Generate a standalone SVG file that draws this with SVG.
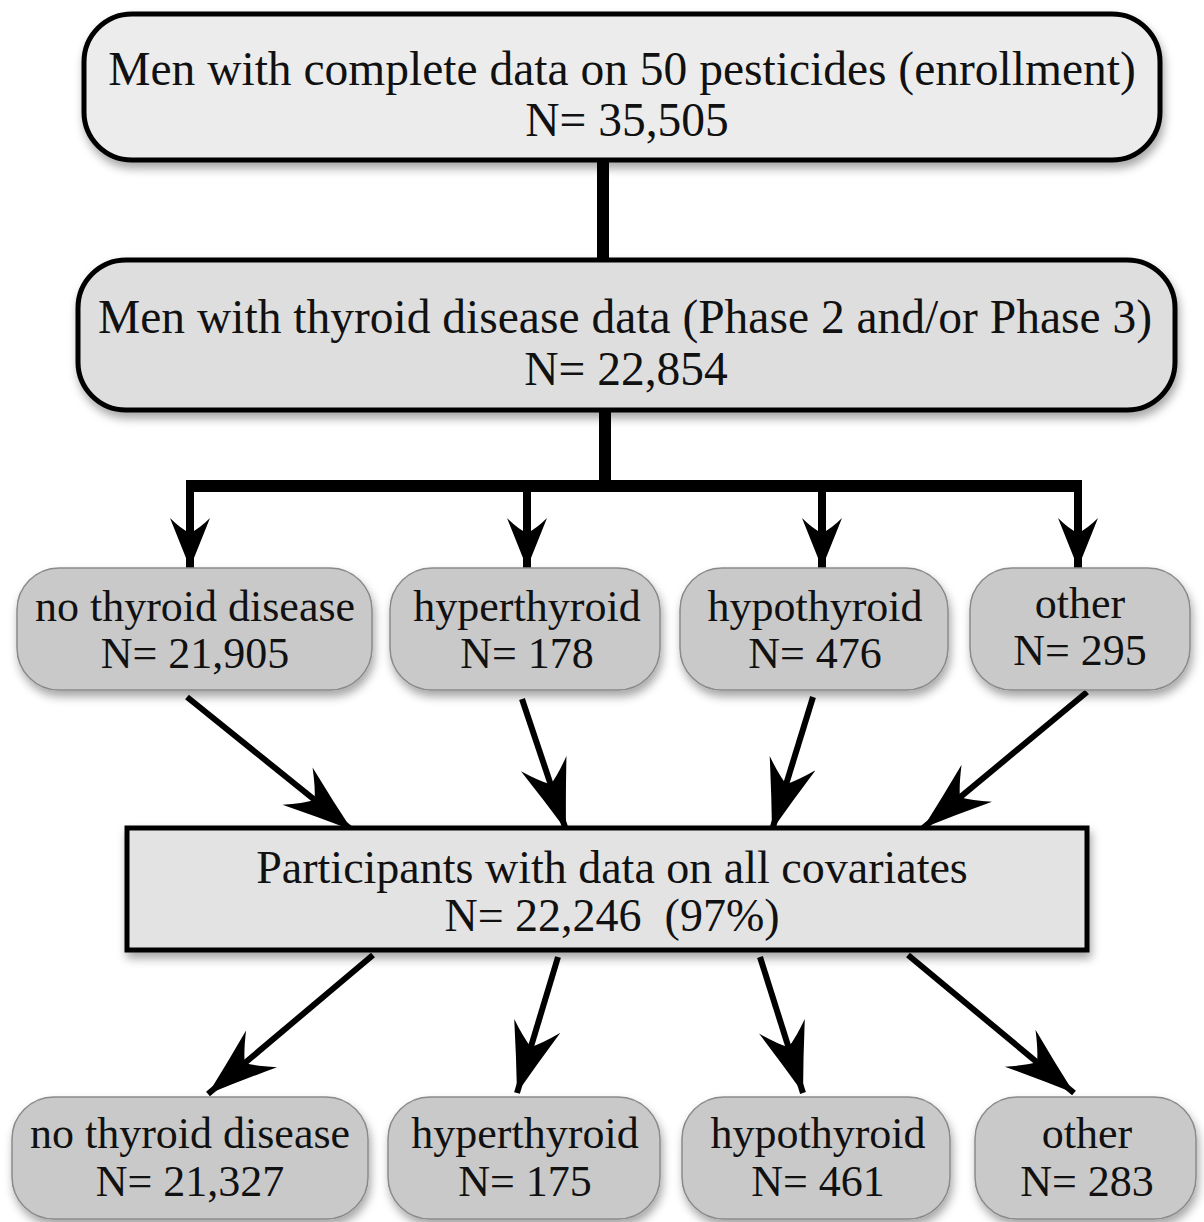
<svg xmlns="http://www.w3.org/2000/svg" width="1204" height="1222" viewBox="0 0 1204 1222">
<style>
  text { font-family: "Liberation Serif", "Times New Roman", serif; font-size: 44px; fill: #111; text-anchor: middle; }
  .top text { font-size: 47.5px; }
  .cov text { font-size: 46px; }
  .big { stroke: #000; stroke-width: 5; }
  .cat { fill: #c9c9c9; stroke: #8a8a8a; stroke-width: 1.5; }
  .conn { stroke: #000; fill: none; }
  .thick { stroke-width: 12; }
  .mid { stroke-width: 8; }
  .thin { stroke-width: 6; }
</style>
<defs>
  <filter id="sh" x="-10%" y="-10%" width="120%" height="135%">
    <feDropShadow dx="2" dy="6" stdDeviation="5" flood-color="#000" flood-opacity="0.35"/>
  </filter>
  <marker id="ah" markerUnits="userSpaceOnUse" markerWidth="76" markerHeight="52" refX="70" refY="24" orient="auto">
    <path d="M70,24 Q36,13 0,0 Q15,14 22,24 Q15,34 0,48 Q36,35 70,24 Z" fill="#000"/>
  </marker>
  <marker id="ahv" markerUnits="userSpaceOnUse" markerWidth="56" markerHeight="44" refX="50" refY="20" orient="auto">
    <path d="M50,20 Q25,10 0,0 Q11,11 15,20 Q11,29 0,40 Q25,30 50,20 Z" fill="#000"/>
  </marker>
</defs>
<rect width="1204" height="1222" fill="#fff"/>

<g id="connectors">
  <line class="conn thick" x1="603" y1="160" x2="603" y2="262"/>
  <line class="conn thick" x1="605" y1="410" x2="605" y2="488"/>
  <line class="conn thick" x1="186" y1="486" x2="1082" y2="486"/>
  <line class="conn mid" x1="190" y1="482" x2="190" y2="568" marker-end="url(#ahv)"/>
  <line class="conn mid" x1="527" y1="490" x2="527" y2="568" marker-end="url(#ahv)"/>
  <line class="conn mid" x1="822" y1="490" x2="822" y2="568" marker-end="url(#ahv)"/>
  <line class="conn mid" x1="1078" y1="482" x2="1078" y2="568" marker-end="url(#ahv)"/>
  <line class="conn thin" x1="187" y1="697" x2="352" y2="830" marker-end="url(#ah)"/>
  <line class="conn thin" x1="522" y1="699" x2="566" y2="830" marker-end="url(#ah)"/>
  <line class="conn thin" x1="813" y1="697" x2="772" y2="830" marker-end="url(#ah)"/>
  <line class="conn thin" x1="1087" y1="692" x2="923" y2="828" marker-end="url(#ah)"/>
  <line class="conn thin" x1="373" y1="955" x2="208" y2="1094" marker-end="url(#ah)"/>
  <line class="conn thin" x1="558" y1="957" x2="517" y2="1093" marker-end="url(#ah)"/>
  <line class="conn thin" x1="760" y1="957" x2="803" y2="1093" marker-end="url(#ah)"/>
  <line class="conn thin" x1="908" y1="955" x2="1074" y2="1093" marker-end="url(#ah)"/>
</g>

<g id="n-enroll" class="top">
  <rect class="big" x="84" y="14" width="1076" height="146" rx="48" fill="#ececec" filter="url(#sh)"/>
  <text x="622" y="85">Men with complete data on 50 pesticides (enrollment)</text>
  <text x="627" y="136">N= 35,505</text>
</g>
<g id="n-thyroid" class="top">
  <rect class="big" x="78" y="260" width="1097" height="150" rx="48" fill="#dedede" filter="url(#sh)"/>
  <text x="625" y="333">Men with thyroid disease data (Phase 2 and/or Phase 3)</text>
  <text x="626" y="385">N= 22,854</text>
</g>

<g id="n-none1">
  <rect class="cat" x="17" y="568" width="355" height="122" rx="42" filter="url(#sh)"/>
  <text x="195" y="621">no thyroid disease</text>
  <text x="195" y="668">N= 21,905</text>
</g>
<g id="n-hyper1">
  <rect class="cat" x="390" y="568" width="270" height="122" rx="42" filter="url(#sh)"/>
  <text x="527" y="621">hyperthyroid</text>
  <text x="527" y="668">N= 178</text>
</g>
<g id="n-hypo1">
  <rect class="cat" x="680" y="568" width="268" height="122" rx="42" filter="url(#sh)"/>
  <text x="815" y="621">hypothyroid</text>
  <text x="815" y="668">N= 476</text>
</g>
<g id="n-other1">
  <rect class="cat" x="970" y="568" width="220" height="122" rx="42" filter="url(#sh)"/>
  <text x="1080" y="618">other</text>
  <text x="1080" y="665">N= 295</text>
</g>

<g id="n-covariates" class="cov">
  <rect x="127" y="828" width="960" height="122" fill="#e3e3e3" stroke="#000" stroke-width="5" filter="url(#sh)"/>
  <text x="612" y="883">Participants with data on all covariates</text>
  <text x="612" y="931" xml:space="preserve">N= 22,246  (97%)</text>
</g>

<g id="n-none2">
  <rect class="cat" x="12" y="1097" width="356" height="122" rx="42" filter="url(#sh)"/>
  <text x="190" y="1148">no thyroid disease</text>
  <text x="190" y="1196">N= 21,327</text>
</g>
<g id="n-hyper2">
  <rect class="cat" x="388" y="1097" width="272" height="122" rx="42" filter="url(#sh)"/>
  <text x="525" y="1148">hyperthyroid</text>
  <text x="525" y="1196">N= 175</text>
</g>
<g id="n-hypo2">
  <rect class="cat" x="682" y="1097" width="268" height="122" rx="42" filter="url(#sh)"/>
  <text x="818" y="1148">hypothyroid</text>
  <text x="818" y="1196">N= 461</text>
</g>
<g id="n-other2">
  <rect class="cat" x="975" y="1097" width="221" height="122" rx="42" filter="url(#sh)"/>
  <text x="1087" y="1148">other</text>
  <text x="1087" y="1196">N= 283</text>
</g>
</svg>
